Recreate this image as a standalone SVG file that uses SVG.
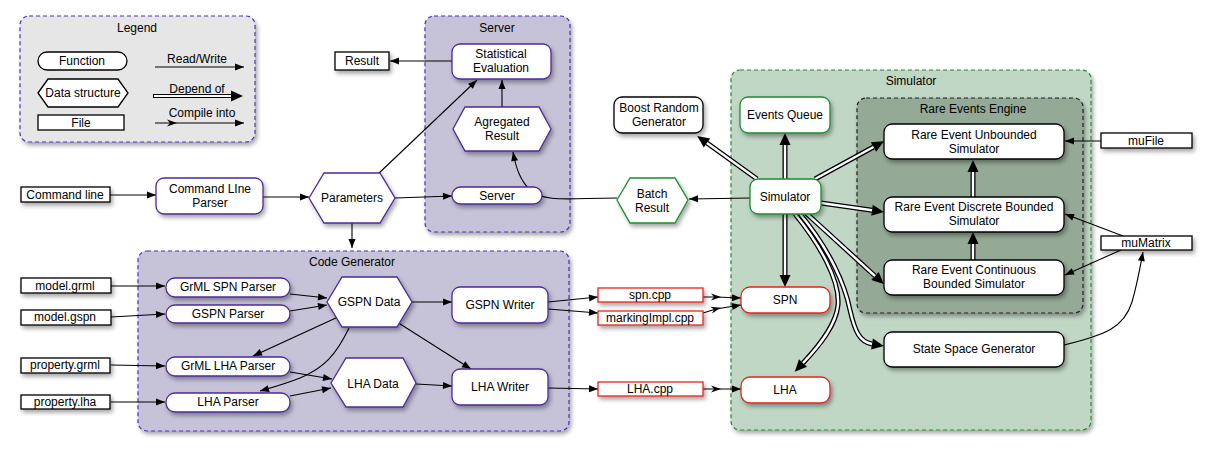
<svg xmlns="http://www.w3.org/2000/svg" width="1211" height="454" viewBox="0 0 1211 454">
<style>
text{font-family:"Liberation Sans",Arial,sans-serif;font-size:12px;fill:#000;text-anchor:middle;dominant-baseline:central}
.cl{stroke-dasharray:4,3;stroke-width:1.2}
.pur{fill:#fff;stroke:#4d2a9a;stroke-width:1.3}
.grn{fill:#fff;stroke:#1e8c2e;stroke-width:1.3}
.red{fill:#fff;stroke:#e8231c;stroke-width:1.3}
.blk{fill:#fff;stroke:#000;stroke-width:1.3}
.sh{filter:url(#sh)}
.a{fill:none;stroke:#000;stroke-width:1.1;marker-end:url(#ar)}
.c{fill:none;stroke:#000;stroke-width:1.1;marker-mid:url(#cm);marker-end:url(#ar)}
.do{fill:none;stroke:#000;stroke-width:5;marker-end:url(#da)}
.di{fill:none;stroke:#fff;stroke-width:2.4}
</style>
<defs>
<filter id="sh" x="-20%" y="-20%" width="150%" height="170%">
<feDropShadow dx="2" dy="3" stdDeviation="2" flood-color="#000" flood-opacity="0.35"/>
</filter>
<marker id="ar" markerUnits="userSpaceOnUse" markerWidth="10" markerHeight="8" refX="9" refY="3.5" orient="auto" overflow="visible">
<path d="M0,0 L9,3.5 L0,7 z" fill="#000"/>
</marker>
<marker id="cm" markerUnits="userSpaceOnUse" markerWidth="11" markerHeight="8" refX="5" refY="3.5" orient="auto" overflow="visible">
<path d="M0,0 L10,3.5 L0,7 L3,3.5 z" fill="#000"/>
</marker>
<marker id="da" markerUnits="userSpaceOnUse" markerWidth="14" markerHeight="12" refX="0" refY="6" orient="auto" overflow="visible">
<path d="M0,0.5 L12,6 L0,11.5 z" fill="#000"/>
</marker>
</defs>
<rect width="1211" height="454" fill="#fff"/>

<g id="legend">
<rect x="20" y="16" width="235" height="126" rx="9" fill="#e6e6e6" stroke="#4a35c0" class="cl sh"/>
<text x="137" y="28">Legend</text>
<rect x="38" y="52" width="89" height="18" rx="9" class="blk"/>
<text x="82" y="61">Function</text>
<polygon points="38,93 48,79 118,79 128,93 118,107 48,107" class="blk"/>
<text x="83" y="93">Data structure</text>
<rect x="38" y="115" width="86" height="15" class="blk"/>
<text x="81" y="123">File</text>
<text x="197" y="59">Read/Write</text>
<path d="M155,67 L244,67" class="a"/>
<text x="197" y="89">Depend of</text>
<path d="M153,96 L231,96" class="do" style="stroke-width:4"/>
<path d="M154,96 L231,96" class="di" style="stroke-width:2"/>
<text x="202" y="113">Compile into</text>
<path d="M155,123 L172,123 L244,123" class="c"/>
</g>

<g id="server-cluster">
<rect x="425" y="16" width="145" height="216" rx="9" fill="#c6c3d9" stroke="#4a2fbf" class="cl sh"/>
<text x="497" y="28">Server</text>
</g>
<g id="codegen-cluster">
<rect x="138" y="251" width="431" height="180" rx="9" fill="#c6c3d9" stroke="#4a2fbf" class="cl sh"/>
<text x="352" y="262">Code Generator</text>
</g>
<g id="simulator-cluster">
<rect x="731" y="70" width="360" height="360" rx="9" fill="#c1d7c6" stroke="#1e8c2e" class="cl sh"/>
<text x="911" y="81">Simulator</text>
</g>
<g id="rare-cluster">
<rect x="857" y="98" width="226" height="215" rx="9" fill="#94a996" stroke="#222" class="cl sh"/>
<text x="973" y="109">Rare Events Engine</text>
</g>

<g id="connectors">
<path d="M110,195 L156,195" class="a"/>
<path d="M263,197 L309,197" class="a"/>
<path d="M395,198 L452,196" class="a"/>
<path d="M352,223 L352,248" class="a"/>
<path d="M377,175 L477,80" class="a"/>
<path d="M452,61 L390,61" class="a"/>
<path d="M502,107 L502,80" class="a"/>
<path d="M617,198 C570,198 545,203 530,190 C520,180 516,168 513,152" class="a"/>
<path d="M750,198 L689,199" class="a"/>
<path d="M1101,141 L1065,141" class="a"/>
<path d="M1123,236 L1065,214" class="a"/>
<path d="M1121,250 L1065,275" class="a"/>
<path d="M1064,345 C1105,335 1124,328 1132,302 C1137,285 1140,268 1143,252" class="a"/>
<path d="M111,286 L165,286" class="a"/>
<path d="M111,317 L165,314" class="a"/>
<path d="M111,365 L165,366" class="a"/>
<path d="M111,402 L165,402" class="a"/>
<path d="M290,294 L327,298" class="a"/>
<path d="M290,311 L327,305" class="a"/>
<path d="M338,317 L253,356" class="a"/>
<path d="M349,328 C336,355 324,368 300,378 C285,384 274,387 260,391" class="a"/>
<path d="M290,372 L332,379" class="a"/>
<path d="M290,396 L331,388" class="a"/>
<path d="M412,302 L452,302" class="a"/>
<path d="M397,322 L471,369" class="a"/>
<path d="M416,384 L452,386" class="a"/>
<path d="M548,302 L598,297" class="a"/>
<path d="M548,309 L598,313" class="a"/>
<path d="M548,388 L598,389" class="a"/>
<path d="M703,297 L716,297 L741,298" class="c"/>
<path d="M703,313 L716,309 L741,305" class="c"/>
<path d="M703,389 L716,389 L741,389" class="c"/>
<!-- depend-of double arrows -->
<path d="M757,179 L707,143" class="do"/><path d="M757,179 L707,143" class="di"/>
<path d="M785,179 L785,145" class="do"/><path d="M785,179 L785,145" class="di"/>
<path d="M815,179 L873.5,147" class="do"/><path d="M815,179 L873.5,147" class="di"/>
<path d="M821,203 L872,210.3" class="do"/><path d="M821,203 L872,210.3" class="di"/>
<path d="M806,213 L875,276" class="do"/><path d="M806,213 L875,276" class="di"/>
<path d="M785,214 L785,275" class="do"/><path d="M785,214 L785,275" class="di"/>
<path d="M973,197 L973,172" class="do"/><path d="M973,197 L973,172" class="di"/>
<path d="M973,260 L973,244" class="do"/><path d="M973,260 L973,244" class="di"/>
<path d="M800,214 C830,250 845,285 850,310 C855,332 860,342 872,344" class="do"/><path d="M800,214 C830,250 845,285 850,310 C855,332 860,342 872,344" class="di"/>
<path d="M795,214 C820,245 840,280 838,305 C836,325 820,345 803,363" class="do"/><path d="M795,214 C820,245 840,280 838,305 C836,325 820,345 803,363" class="di"/>
</g>

<g id="result"><rect x="335" y="52" width="54" height="18" class="blk sh"/><text x="362" y="61">Result</text></g>
<g id="statistical-evaluation"><rect x="452" y="44" width="99" height="35" rx="8" class="pur sh"/><text x="501" y="54">Statistical</text><text x="501" y="68">Evaluation</text></g>
<g id="agregated-result"><polygon points="453,129 465,107 539,107 551,129 539,151 465,151" class="pur sh"/><text x="502" y="122">Agregated</text><text x="502" y="136">Result</text></g>
<g id="server"><rect x="452" y="187" width="90" height="17" rx="8.5" class="pur sh"/><text x="497" y="196">Server</text></g>
<g id="command-line"><rect x="21" y="187" width="89" height="15" class="blk sh"/><text x="65" y="195">Command line</text></g>
<g id="command-line-parser"><rect x="156" y="178" width="107" height="36" rx="8" class="pur sh"/><text x="210" y="189">Command LIne</text><text x="210" y="203">Parser</text></g>
<g id="parameters"><polygon points="309,198 324,173 380,173 395,198 380,223 324,223" class="pur sh"/><text x="352" y="198">Parameters</text></g>

<g id="boost-random-generator"><rect x="614" y="97" width="89" height="36" rx="8" class="blk sh"/><text x="659" y="108">Boost Random</text><text x="659" y="122">Generator</text></g>
<g id="batch-result"><polygon points="617,200 630,178 675,178 688,200 675,223 630,223" class="grn sh"/><text x="652" y="194">Batch</text><text x="652" y="208">Result</text></g>
<g id="events-queue"><rect x="740" y="97" width="90" height="36" rx="8" class="grn sh"/><text x="785" y="115">Events Queue</text></g>
<g id="simulator"><rect x="750" y="179" width="71" height="35" rx="8" class="grn sh"/><text x="785" y="197">Simulator</text></g>
<g id="spn"><rect x="741" y="287" width="89" height="26" rx="9" class="red sh"/><text x="785" y="300">SPN</text></g>
<g id="lha"><rect x="741" y="377" width="89" height="26" rx="9" class="red sh"/><text x="785" y="390">LHA</text></g>
<g id="rare-unbounded"><rect x="884" y="124" width="180" height="35" rx="8" class="blk sh"/><text x="974" y="135">Rare Event Unbounded</text><text x="974" y="149">Simulator</text></g>
<g id="rare-discrete"><rect x="884" y="197" width="180" height="35" rx="8" class="blk sh"/><text x="974" y="207">Rare Event Discrete Bounded</text><text x="974" y="221">Simulator</text></g>
<g id="rare-continuous"><rect x="884" y="260" width="180" height="35" rx="8" class="blk sh"/><text x="974" y="270">Rare Event Continuous</text><text x="974" y="284">Bounded Simulator</text></g>
<g id="state-space-generator"><rect x="884" y="332" width="180" height="35" rx="8" class="blk sh"/><text x="974" y="349">State Space Generator</text></g>
<g id="mufile"><rect x="1101" y="133" width="91" height="15" class="blk sh"/><text x="1146" y="141">muFile</text></g>
<g id="mumatrix"><rect x="1101" y="236" width="91" height="14" class="blk sh"/><text x="1146" y="243">muMatrix</text></g>

<g id="spn-cpp"><rect x="598" y="288" width="105" height="14" class="red sh"/><text x="650" y="295">spn.cpp</text></g>
<g id="markingimpl-cpp"><rect x="598" y="311" width="105" height="14" class="red sh"/><text x="650" y="318">markingImpl.cpp</text></g>
<g id="lha-cpp"><rect x="598" y="382" width="105" height="14" class="red sh"/><text x="650" y="389">LHA.cpp</text></g>

<g id="model-grml"><rect x="21" y="278" width="90" height="15" class="blk sh"/><text x="65" y="286">model.grml</text></g>
<g id="model-gspn"><rect x="21" y="310" width="90" height="15" class="blk sh"/><text x="65" y="317">model.gspn</text></g>
<g id="property-grml"><rect x="21" y="358" width="89" height="15" class="blk sh"/><text x="65" y="365">property.grml</text></g>
<g id="property-lha"><rect x="21" y="395" width="89" height="14" class="blk sh"/><text x="65" y="402">property.lha</text></g>
<g id="grml-spn-parser"><rect x="166" y="278" width="124" height="19" rx="9" class="pur sh"/><text x="228" y="287">GrML SPN Parser</text></g>
<g id="gspn-parser"><rect x="166" y="305" width="124" height="18" rx="9" class="pur sh"/><text x="228" y="314">GSPN Parser</text></g>
<g id="grml-lha-parser"><rect x="166" y="357" width="124" height="19" rx="9" class="pur sh"/><text x="228" y="366">GrML LHA Parser</text></g>
<g id="lha-parser"><rect x="166" y="393" width="124" height="19" rx="9" class="pur sh"/><text x="228" y="402">LHA Parser</text></g>
<g id="gspn-data"><polygon points="327,302 342,277 397,277 412,302 397,327 342,327" class="pur sh"/><text x="369" y="302">GSPN Data</text></g>
<g id="lha-data"><polygon points="331,383 346,358 403,358 416,383 403,407 346,407" class="pur sh"/><text x="373" y="384">LHA Data</text></g>
<g id="gspn-writer"><rect x="452" y="287" width="96" height="36" rx="8" class="pur sh"/><text x="500" y="305">GSPN Writer</text></g>
<g id="lha-writer"><rect x="452" y="369" width="96" height="36" rx="8" class="pur sh"/><text x="500" y="387">LHA Writer</text></g>
</svg>
